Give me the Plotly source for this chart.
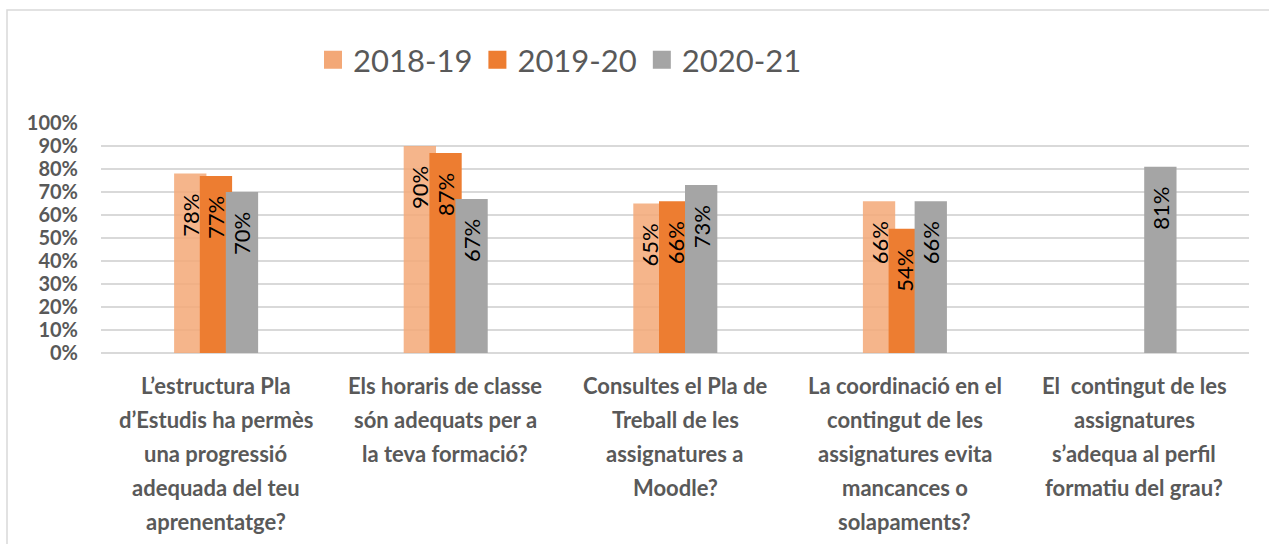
import plotly.graph_objects as go

# ---------------- data ----------------
categories = [
    "L’estructura Pla\nd’Estudis ha permès\nuna progressió\nadequada del teu\naprenentatge?",
    "Els horaris de classe\nsón adequats per a\nla teva formació?",
    "Consultes el Pla de\nTreball de les\nassignatures a\nMoodle?",
    "La coordinació en el\ncontingut de les\nassignatures evita\nmancances o\nsolapaments?",
    "El\u00a0 contingut de les\nassignatures\ns’adequa al perfil\nformatiu del grau?",
]
series_names = ["2018-19", "2019-20", "2020-21"]
values_2018_19 = [0.78, 0.90, 0.65, 0.66, None]
values_2019_20 = [0.77, 0.87, 0.66, 0.54, None]
values_2020_21 = [0.70, 0.67, 0.73, 0.66, 0.81]
y_ticks = [0, 0.1, 0.2, 0.3, 0.4, 0.5, 0.6, 0.7, 0.8, 0.9, 1.0]

# ---------------- styles ----------------
W, H = 1269, 544
ML, MR, MT, MB = 101, 20, 123, 191
colors = ["#F3A877", "#ED7D31", "#A5A5A5"]
opacities = [0.85, 1.0, 1.0]
bar_width = 0.1407
offsets = [-0.1816, -0.0697, 0.0436]
FONT = "Lato, sans-serif"
GREY_TXT = "#595959"

xs = list(range(len(categories)))
all_vals = [values_2018_19, values_2019_20, values_2020_21]

fig = go.Figure()
for name, vals, col, op, off in zip(series_names, all_vals, colors, opacities, offsets):
    fig.add_trace(go.Bar(
        x=xs, y=vals, name=name, showlegend=False,
        width=bar_width, offset=off,
        marker=dict(color=col, opacity=op, line=dict(width=0)),
        texttemplate="%{y:.0%}\u00a0\u00a0\u00a0",
        textposition="inside", insidetextanchor="end",
        textangle=-90, constraintext="none",
        textfont=dict(family=FONT, size=22, color="#000000"),
        hoverinfo="skip",
    ))

# legend entries (large square swatches)
for name, col in zip(series_names, colors):
    fig.add_trace(go.Scatter(
        x=[None], y=[None], mode="markers", name=name,
        marker=dict(symbol="square", size=16, color=col, line=dict(color=col, width=2)),
        showlegend=True,
    ))

# category labels, one annotation per line
annotations = []
for i, cat in enumerate(categories):
    for j, line in enumerate(cat.split("\n")):
        annotations.append(dict(
            x=xs[i], xref="x", y=0, yref="paper",
            text=line, showarrow=False,
            xanchor="center", yanchor="middle",
            yshift=-(32 + 34 * j),
            font=dict(family=FONT, size=22, color=GREY_TXT, weight="bold"),
        ))

plot_w = W - ML - MR
plot_h = H - MT - MB

fig.update_layout(
    width=W, height=H,
    margin=dict(l=ML, r=MR, t=MT, b=MB, pad=0),
    barmode="overlay",
    paper_bgcolor="white", plot_bgcolor="white",
    annotations=annotations,
    legend=dict(
        orientation="h",
        x=(560 - ML) / plot_w, xanchor="center",
        y=1 + (MT - 60) / plot_h, yanchor="middle",
        font=dict(family=FONT, size=31, color=GREY_TXT),
        itemsizing="trace", bgcolor="rgba(0,0,0,0)",
    ),
    xaxis=dict(
        range=[-0.5, len(categories) - 0.5],
        showticklabels=False, showgrid=False, zeroline=False,
        showline=False, ticks="", fixedrange=True,
    ),
    yaxis=dict(
        range=[0, 1], tickvals=y_ticks, tickformat=".0%",
        showgrid=True, gridcolor="#D9D9D9", gridwidth=1.5,
        zeroline=True, zerolinecolor="#D9D9D9", zerolinewidth=1.5,
        showline=False, ticks="", ticklabelstandoff=22,
        tickfont=dict(family=FONT, size=20, color=GREY_TXT, weight="bold"),
        fixedrange=True,
    ),
    shapes=[dict(
        type="rect", xref="paper", yref="paper",
        x0=(7 - ML) / plot_w, x1=1.5,
        y0=-2, y1=1 + (MT - 10) / plot_h,
        line=dict(color="#D9D9D9", width=1.5), fillcolor="rgba(0,0,0,0)",
        layer="below",
    )],
)

fig.write_html("out.html", config={"displayModeBar": False},
               post_script="document.body.style.margin='0px';")
